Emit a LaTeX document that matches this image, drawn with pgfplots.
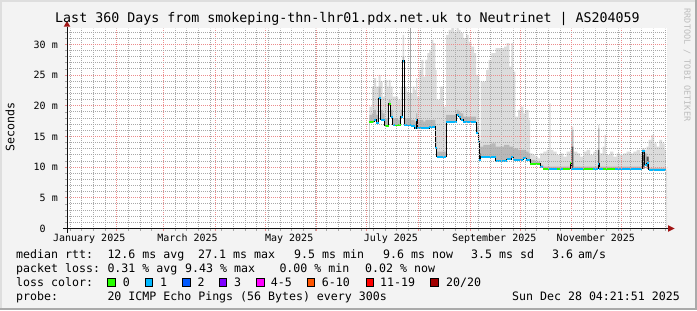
\documentclass[border=0pt]{standalone}
\usepackage{fontspec}
\usepackage{pgfplots}
\usepackage{pgfplotstable}
\pgfplotsset{compat=1.18}
\newfontfamily\dvm{DejaVu Sans Mono}
\newcommand\titlefont{\dvm\fontsize{13.3bp}{15bp}\selectfont}
\newcommand\legfont{\dvm\fontsize{11.6bp}{13bp}\selectfont}
\newcommand\axfont{\dvm\fontsize{10bp}{12bp}\selectfont}
\newcommand\wmfont{\dvm\fontsize{8.5bp}{10bp}\selectfont}
\definecolor{bgc}{HTML}{F3F3F3}
\definecolor{shadea}{HTML}{DEDEDE}
\definecolor{shadeb}{HTML}{AAAAAA}
\definecolor{gridc}{HTML}{A8A8A8}
\definecolor{mgridc}{HTML}{EC8C8C}
\definecolor{arrc}{HTML}{A01414}
\definecolor{axc}{HTML}{101010}
\definecolor{smokeA}{HTML}{DCDCDC}
\definecolor{smokeB}{HTML}{B8B8B8}
\definecolor{smokeC}{HTML}{555555}
\definecolor{lc0}{HTML}{26FF00}
\definecolor{lc1}{HTML}{00B8FF}
\definecolor{lc2}{HTML}{0059FF}
\definecolor{lc3}{HTML}{7E00FF}
\definecolor{lc4}{HTML}{FF00FF}
\definecolor{lc6}{HTML}{FF5500}
\definecolor{lc11}{HTML}{FF0000}
\definecolor{lc20}{HTML}{A10000}
\definecolor{wmc}{HTML}{BDBDBD}

\pgfplotstableread{
x med lo hi dk dd
182.6 17.42 17.42 19.87 18.51 17.42
184.2 17.42 17.42 23.13 18.78 17.42
185.4 17.70 17.70 24.49 19.33 17.70
186.6 17.15 17.15 23.13 18.51 17.15
188.2 21.23 21.23 25.03 23.13 21.23
189.4 17.70 17.70 23.95 19.33 17.70
190.6 17.70 17.70 21.50 18.78 17.70
191.8 16.72 16.72 24.22 17.97 16.72
193.4 16.72 16.72 23.13 17.97 16.72
194.2 20.30 20.30 24.22 20.96 20.30
195.4 18.24 18.24 23.13 19.33 18.24
196.6 16.88 16.88 21.50 17.97 16.88
198.2 16.88 16.88 21.50 17.97 16.88
199.8 16.88 16.88 20.96 17.70 16.88
201.4 18.24 18.24 23.13 19.33 18.24
202.6 27.37 27.37 31.55 28.02 27.37
203.4 16.88 16.88 23.13 17.97 16.88
205.0 16.88 16.88 22.32 17.97 16.88
206.6 16.83 16.83 22.04 17.97 16.83
207.4 16.72 16.72 22.04 17.70 16.72
208.6 16.72 16.72 23.13 17.70 16.72
209.8 16.34 16.34 22.59 17.42 16.34
210.6 17.70 17.70 24.49 18.78 17.70
211.4 16.34 16.34 21.50 17.42 16.34
212.6 16.34 16.34 25.85 17.70 16.34
213.8 16.34 16.34 27.48 17.70 16.34
215.0 16.34 16.34 24.76 17.42 16.34
216.2 16.34 16.34 27.48 17.70 16.34
217.4 16.34 16.34 28.57 17.70 16.34
218.6 16.50 16.50 29.11 17.70 16.50
219.8 16.50 16.50 30.74 17.70 16.50
221.0 16.55 16.55 30.20 17.70 16.55
222.2 13.08 13.08 25.85 14.98 13.08
223.0 11.72 11.72 20.96 12.53 11.72
225.0 11.72 11.72 23.13 12.53 11.72
227.0 11.72 11.72 19.87 12.53 11.72
228.6 17.32 17.32 31.55 18.51 17.32
230.2 17.32 17.32 32.37 18.51 17.32
231.8 17.32 17.32 32.64 18.51 17.32
233.4 17.32 17.32 32.10 18.51 17.32
235.0 18.51 18.51 32.64 19.33 18.51
236.2 18.24 18.24 32.37 19.05 18.24
237.4 17.70 17.70 31.83 18.78 17.70
239.0 17.32 17.32 31.01 18.24 17.32
240.6 17.32 17.32 31.55 18.24 17.32
242.2 17.32 17.32 30.47 18.24 17.32
243.8 17.32 17.32 29.65 18.24 17.32
245.4 17.32 17.32 28.57 18.24 17.32
246.6 15.52 15.52 25.03 16.61 15.52
248.0 14.16 14.16 24.76 15.25 14.16
248.6 11.17 11.17 14.43 13.35 12.26
249.4 11.72 11.72 23.95 13.35 11.72
251.0 11.72 11.72 23.95 13.62 11.72
252.6 11.72 11.72 25.85 13.62 11.72
254.2 11.72 11.72 27.48 13.62 11.72
255.8 11.72 11.72 28.57 13.89 11.72
257.4 11.72 11.72 28.57 13.89 11.72
258.4 11.07 11.07 29.38 13.35 11.07
260.2 11.07 11.07 29.38 13.35 11.07
261.8 11.07 11.07 29.38 13.35 11.07
263.4 11.07 11.07 29.65 13.62 11.07
265.0 11.28 11.28 30.20 13.62 11.28
266.6 11.28 11.28 26.39 13.35 11.28
267.8 11.61 11.61 30.20 13.35 11.61
269.0 11.17 11.17 25.58 13.08 11.17
270.2 11.17 11.17 18.24 13.08 11.17
271.8 11.17 11.17 19.33 12.80 11.17
273.4 11.17 11.17 19.87 12.80 11.17
275.0 11.45 11.45 18.78 12.80 11.45
276.6 11.17 11.17 19.33 12.53 11.17
278.2 11.17 11.17 17.70 12.26 11.17
279.0 10.52 10.52 12.26 11.17 10.52
280.6 10.52 10.52 11.99 11.17 10.52
282.2 10.52 10.52 11.72 10.90 10.52
283.8 10.52 10.52 11.45 10.90 10.52
285.0 9.98 9.98 12.26 10.36 9.98
287.0 9.65 9.65 12.53 10.09 9.65
289.0 9.65 9.65 12.80 10.09 9.65
290.6 9.65 9.65 20.41 10.09 9.65
291.4 9.65 9.65 12.80 10.09 9.65
293.0 9.71 9.71 12.53 10.09 9.71
295.0 9.76 9.76 11.99 10.09 9.76
297.0 9.76 9.76 12.26 10.09 9.76
299.0 9.76 9.76 11.72 10.09 9.76
301.0 9.76 9.76 12.53 10.09 9.76
303.0 10.74 9.76 12.80 10.90 10.74
303.8 9.76 9.76 16.61 16.07 13.35
305.0 9.76 9.76 12.53 10.09 9.76
307.4 9.76 9.76 12.26 10.09 9.76
309.0 9.76 9.76 11.72 10.09 9.76
311.0 9.76 9.76 12.53 10.09 9.76
313.0 9.76 9.76 12.80 10.09 9.76
315.0 9.76 9.76 11.99 10.09 9.76
317.0 9.76 9.76 12.53 10.09 9.76
318.6 9.76 9.76 12.80 10.09 9.76
319.8 10.52 9.76 16.88 16.34 12.80
320.6 9.76 9.76 12.26 10.09 9.76
322.6 9.76 9.76 13.35 10.09 9.76
323.8 9.76 9.76 15.25 10.09 9.76
324.6 9.76 9.76 11.99 10.09 9.76
327.0 9.76 9.76 12.53 10.09 9.76
329.0 9.76 9.76 11.72 10.09 9.76
331.0 9.76 9.76 12.26 10.09 9.76
333.0 9.76 9.76 11.99 10.09 9.76
335.0 9.76 9.76 12.26 10.09 9.76
337.0 9.76 9.76 12.53 10.09 9.76
339.0 9.76 9.76 12.26 10.09 9.76
341.0 9.76 9.76 12.53 10.09 9.76
343.0 9.76 9.76 12.80 10.09 9.76
345.0 9.76 9.76 12.26 10.09 9.76
346.2 12.70 9.76 13.08 12.80 12.70
347.8 10.36 10.36 12.80 12.26 10.36
349.0 10.63 9.76 13.35 11.72 11.72
350.2 9.54 9.54 14.43 9.87 9.54
351.8 9.54 9.54 15.25 9.87 9.54
353.4 9.54 9.54 13.89 9.87 9.54
355.0 9.54 9.54 13.35 9.87 9.54
356.6 9.54 9.54 14.43 9.87 9.54
358.2 9.54 9.54 13.89 9.87 9.54
359.8 9.54 9.54 12.80 9.87 9.54
360.6 9.54 9.54 12.80 9.87 9.54
}\smoke

\begin{document}
\begin{tikzpicture}[x=1bp,y=1bp]
\useasboundingbox (0,0) rectangle (697,310);
\fill[bgc] (0,0) rectangle (697,310);
\fill[shadea] (0,0) rectangle (2,310);
\fill[shadea] (0,308) rectangle (697,310);
\fill[shadeb] (695,0) rectangle (697,310);
\fill[shadeb] (0,0) rectangle (697,2);
\coordinate (sw) at (67,81.5);

\begin{axis}[
  name=ax,
  at={(sw)}, anchor=south west,
  scale only axis, width=600bp, height=200bp,
  xmin=1.18, xmax=361.18, ymin=0, ymax=32.6,
  axis on top,
  axis line style={draw=none},
  axis background/.style={fill=white},
  xtick={31,59,90,120,151,181,212,243,273,304,334},
  xticklabels={},
  minor xtick={3,10,...,360},
  ytick={0,5,...,30},
  yticklabels={{0\hphantom{\ m}},{5 m},{10 m},{15 m},{20 m},{25 m},{30 m}},
  minor ytick={1,...,32},
  grid=both,
  major grid style={draw=mgridc, line width=1bp, dash pattern=on 1bp off 1bp},
  minor grid style={draw=gridc, line width=1bp, dash pattern=on 1bp off 1bp},
  xtick pos=bottom, ytick pos=left,
  tick align=outside,
  major tick length=2bp, minor tick length=2bp,
  major tick style={draw=mgridc, line width=0.8bp},
  minor tick style={draw=gridc, line width=0.8bp},
  extra x ticks={14.5,73.5,134.5,195.5,257.5,318.5},
  extra x tick labels={January 2025,March 2025,May 2025,July 2025,September 2025,November 2025},
  extra x tick style={grid=none, major tick length=0pt, xticklabel style={anchor=base, yshift=-13bp}},
  xticklabel style={font=\axfont, inner sep=0pt},
  yticklabel style={font=\axfont, anchor=east, inner sep=0pt, xshift=-7bp},
  /pgf/number format/assume math mode=true,
]
\addplot[fill=smokeA, draw=none, const plot] table[x=x, y=hi] {\smoke} \closedcycle;
\addplot[fill=smokeB, draw=none, const plot] table[x=x, y=dk] {\smoke} \closedcycle;
\addplot[fill=smokeC, draw=none, const plot] table[x=x, y=dd] {\smoke} \closedcycle;
\addplot[fill=white, draw=none, const plot] table[x=x, y=lo] {\smoke} \closedcycle;
\addplot[draw=gray!70, line width=0.7bp] coordinates {(207,16.8) (207,32.6)};
\addplot[draw=black, line width=1bp, const plot] table[x=x, y=med] {\smoke};
\addplot[draw=lc1, line width=2bp, jump mark left] table[x=x, y=med] {\smoke};
\addplot[draw=lc0, line width=2bp, unbounded coords=jump] coordinates {
(182.6,17.42) (185.4,17.42) (185.5,nan)
(191.8,16.72) (194.2,16.72) (194.21,nan)
(194.2,20.30) (195.4,20.30) (195.5,nan)
(198.2,16.88) (201.4,16.88) (201.5,nan)
(279.0,10.52) (285.0,10.52) (285.1,nan)
(287.0,9.65) (290.6,9.65) (290.7,nan)
(295.0,9.76) (297.0,9.76) (297.1,nan)
(299.0,9.76) (303.0,9.76) (303.01,nan)
(303.0,10.74) (303.8,10.74) (303.9,nan)
(311.0,9.76) (317.0,9.76) (317.1,nan)
(322.6,9.76) (330.0,9.76)
};
\end{axis}

% axis lines and arrows
\draw[axc, line width=1bp] (63,81.5) -- (668,81.5);
\draw[axc, line width=1bp] (67,77.5) -- (67,283.5);
\fill[arrc] (668,78.2) -- (674.5,81.5) -- (668,84.8) -- cycle;
\fill[arrc] (63.7,283.3) -- (67,289) -- (70.3,283.3) -- cycle;

% title
\node[anchor=base, inner sep=0pt, font=\titlefont] at (347.5,288) {Last 360 Days from smokeping-thn-lhr01.pdx.net.uk to Neutrinet | AS204059};
% y label
\node[rotate=90, inner sep=0pt, font=\legfont] at (10,183) {Seconds};
% watermark
\node[rotate=-90, inner sep=0pt, font=\wmfont, text=wmc] at (687,245) {RRDTOOL / TOBI OETIKER};

% legend
\begin{scope}[every node/.style={anchor=base west, inner sep=0pt, font=\legfont}]
\node at (16,51.8) {median rtt:};
\node at (107.3,51.8) {12.6 ms avg};
\node at (198,51.8) {27.1 ms max};
\node at (294,51.8) {9.5 ms min};
\node at (383,51.8) {9.6 ms now};
\node at (471,51.8) {3.5 ms sd};
\node at (552,51.8) {3.6};
\node at (578,51.8) {am/s};

\node at (16,37.5) {packet loss:};
\node at (107.3,37.5) {0.31 \% avg};
\node at (185,37.5) {9.43 \% max};
\node at (279.3,37.5) {0.00 \% min};
\node at (365,37.5) {0.02 \% now};

\node at (16,23.5) {loss color:};
\node at (122.7,23.5) {0};
\node at (160,23.5) {1};
\node at (197.3,23.5) {2};
\node at (234,23.5) {3};
\node at (270.7,23.5) {4-5};
\node at (321.7,23.5) {6-10};
\node at (380,23.5) {11-19};
\node at (446,23.5) {20/20};

\node at (16,9.8) {probe:};
\node at (107.3,9.8) {20 ICMP Echo Pings (56 Bytes) every 300s};
\node[anchor=base east] at (680,9.8) {Sun Dec 28 04:21:51 2025};
\end{scope}
\begin{scope}[line width=0.8bp]
\filldraw[fill=lc0, draw=black] (107.5,24) rectangle (115,31.5);
\filldraw[fill=lc1, draw=black] (145,24) rectangle (152.5,31.5);
\filldraw[fill=lc2, draw=black] (182.5,24) rectangle (190,31.5);
\filldraw[fill=lc3, draw=black] (219.3,24) rectangle (226.8,31.5);
\filldraw[fill=lc4, draw=black] (256.7,24) rectangle (264.2,31.5);
\filldraw[fill=lc6, draw=black] (307.3,24) rectangle (314.8,31.5);
\filldraw[fill=lc11, draw=black] (366,24) rectangle (373.5,31.5);
\filldraw[fill=lc20, draw=black] (430.5,24) rectangle (438,31.5);
\end{scope}
\end{tikzpicture}
\end{document}
